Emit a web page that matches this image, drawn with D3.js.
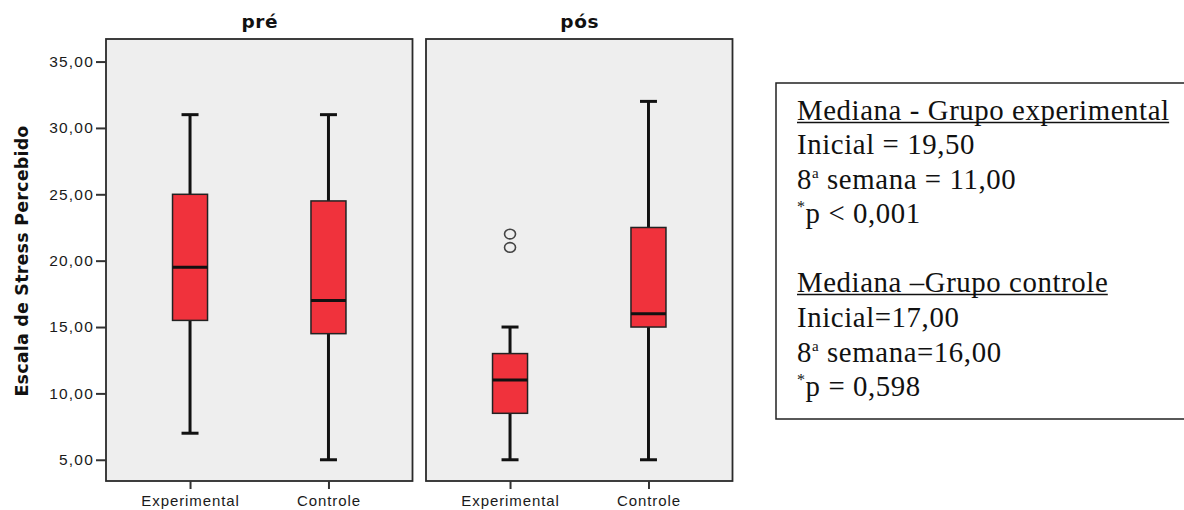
<!DOCTYPE html>
<html><head><meta charset="utf-8">
<script src="https://cdn.jsdelivr.net/npm/d3@7"></script>
<style>body{margin:0;background:#fff}svg{display:block}</style>
</head><body>
<svg id="c" width="1184" height="510"></svg>
<script>
const panels = ["pré", "pós"];
const categories = ["Experimental", "Controle"];
// [whiskerLow, q1, median, q3, whiskerHigh]
const preExperimental = [7, 15.5, 19.5, 25, 31];
const preControle = [5, 14.5, 17, 24.5, 31];
const posExperimental = [5, 8.5, 11, 13, 15];
const posControle = [5, 15, 16, 22.5, 32];
const posExperimentalOutliers = [21, 22];
const yTicks = [5, 10, 15, 20, 25, 30, 35];
const yLabel = "Escala de Stress Percebido";
const noteLines = [
  {t: "Mediana - Grupo experimental", u: true},
  {t: "Inicial = 19,50"},
  {t: "8|a| semana = 11,00"},
  {t: "*|p < 0,001"},
  {t: ""},
  {t: "Mediana –Grupo controle", u: true},
  {t: "Inicial=17,00"},
  {t: "8|a| semana=16,00"},
  {t: "*|p = 0,598"}
];

const data = [
  {panel: panels[0], boxes: [{cat: "Experimental", s: preExperimental, out: []}, {cat: "Controle", s: preControle, out: []}]},
  {panel: panels[1], boxes: [{cat: "Experimental", s: posExperimental, out: posExperimentalOutliers}, {cat: "Controle", s: posControle, out: []}]}
];

const svg = d3.select("#c");
const plotTop = 39, plotBottom = 481;
const panelX = [[106, 412.5], [426, 732.5]];
const y = d3.scaleLinear().domain([3.4, 36.7]).range([plotBottom, plotTop]);
const fmt = v => d3.format(".2f")(v).replace(".", ",");
const sans = "Liberation Sans, Arial, sans-serif";

data.forEach((p, i) => {
  const [x0, x1] = panelX[i];
  const g = svg.append("g");
  g.append("rect").attr("x", x0).attr("y", plotTop).attr("width", x1 - x0).attr("height", plotBottom - plotTop)
    .attr("fill", "#eeeeee").attr("stroke", "#2a2a2a").attr("stroke-width", 1.8);
  g.append("text").attr("x", (x0 + x1) / 2 + 0.5).attr("y", 28).attr("text-anchor", "middle")
    .attr("font-family", "DejaVu Sans, sans-serif").attr("font-weight", "bold").attr("font-size", 18.5)
    .attr("letter-spacing", 0.6).attr("fill", "#111").text(p.panel);
  const x = d3.scalePoint().domain(categories).range([x0, x1]).padding(0.607);
  const xAxis = d3.axisBottom(x).tickSize(8).tickPadding(6);
  const ax = g.append("g").attr("transform", `translate(0,${plotBottom})`).call(xAxis);
  ax.select(".domain").remove();
  ax.selectAll("line").attr("stroke", "#333").attr("stroke-width", 2);
  ax.selectAll("text").attr("font-family", sans).attr("font-size", 15).attr("letter-spacing", 0.9).attr("fill", "#1a1a1a");
  if (i === 0) {
    const yAxis = d3.axisLeft(y).tickValues(yTicks).tickFormat(fmt).tickSize(10).tickPadding(2);
    const ay = g.append("g").attr("transform", `translate(${x0},0)`).call(yAxis);
    ay.select(".domain").remove();
    ay.selectAll("line").attr("stroke", "#333").attr("stroke-width", 2);
    ay.selectAll("text").attr("font-family", sans).attr("font-size", 15.5).attr("letter-spacing", 1.2).attr("fill", "#1a1a1a");
  }
  const bw = 35, cw = 17;
  p.boxes.forEach(b => {
    const cx = x(b.cat);
    const [lo, q1, med, q3, hi] = b.s;
    g.append("line").attr("x1", cx).attr("x2", cx).attr("y1", y(hi)).attr("y2", y(q3)).attr("stroke", "#111").attr("stroke-width", 3);
    g.append("line").attr("x1", cx).attr("x2", cx).attr("y1", y(q1)).attr("y2", y(lo)).attr("stroke", "#111").attr("stroke-width", 3);
    [lo, hi].forEach(v => g.append("line").attr("x1", cx - cw / 2).attr("x2", cx + cw / 2).attr("y1", y(v)).attr("y2", y(v)).attr("stroke", "#111").attr("stroke-width", 3));
    g.append("rect").attr("x", cx - bw / 2).attr("y", y(q3)).attr("width", bw).attr("height", y(q1) - y(q3))
      .attr("fill", "#f0323c").attr("stroke", "#222").attr("stroke-width", 1.5);
    g.append("line").attr("x1", cx - bw / 2).attr("x2", cx + bw / 2).attr("y1", y(med)).attr("y2", y(med)).attr("stroke", "#111").attr("stroke-width", 3);
    b.out.forEach(v => g.append("ellipse").attr("cx", cx).attr("cy", y(v)).attr("rx", 5.5).attr("ry", 4.8).attr("fill", "none").attr("stroke", "#444").attr("stroke-width", 1.6));
  });
});

svg.append("text").attr("transform", "translate(28,261) rotate(-90)").attr("text-anchor", "middle")
  .attr("font-family", "DejaVu Sans, sans-serif").attr("font-weight", "bold").attr("font-size", 17.5)
  .attr("letter-spacing", 0.2).attr("fill", "#111").text(yLabel);

// Note box
svg.append("rect").attr("x", 776).attr("y", 83).attr("width", 420).attr("height", 336)
  .attr("fill", "#fff").attr("stroke", "#222").attr("stroke-width", 1.5);
const lineY = [120, 154, 188.5, 223, 257, 292, 327, 361.5, 395.5];
noteLines.forEach((l, i) => {
  if (!l.t) return;
  const t = svg.append("text").attr("x", 797).attr("y", lineY[i])
    .attr("font-family", "Liberation Serif, Times New Roman, serif").attr("font-size", 28.8)
    .attr("letter-spacing", 0.6).attr("fill", "#111");
  const parts = l.t.split("|");
  if (parts.length === 1) {
    t.text(l.t);
    if (l.u) {
      const w = t.node().getComputedTextLength();
      svg.append("line").attr("x1", 797).attr("x2", 797 + w - 0.5).attr("y1", lineY[i] + 2.5).attr("y2", lineY[i] + 2.5).attr("stroke", "#111").attr("stroke-width", 1.3);
    }
  } else {
    if (parts[0] === "*") {
      t.append("tspan").attr("font-size", 16).attr("dy", -11).text("*");
      t.append("tspan").attr("dy", 11).text(parts[1]);
    } else {
      t.append("tspan").text(parts[0]);
      t.append("tspan").attr("font-size", 15).attr("dy", -11).text(parts[1]);
      t.append("tspan").attr("dy", 11).text(parts[2]);
    }
  }
});
</script>
</body></html>
